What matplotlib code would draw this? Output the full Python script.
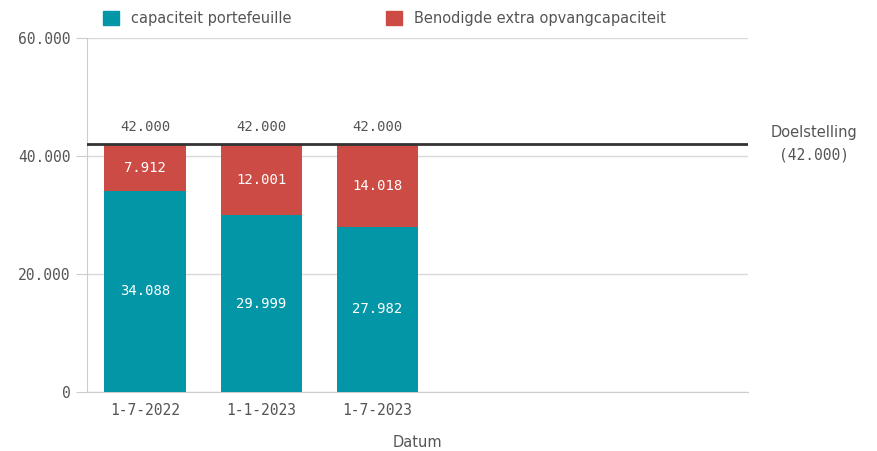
import matplotlib.pyplot as plt
import numpy as np
from matplotlib.patches import Patch
from matplotlib.ticker import FuncFormatter

# data
datums = ['1-7-2022', '1-1-2023', '1-7-2023']
capaciteit = [34088, 29999, 27982]
extra = [7912, 12001, 14018]
doel = 42000

teal = '#0396A6'
red = '#CD4B45'
grey_txt = '#555555'

fig = plt.figure(figsize=(8.77, 4.51), dpi=100)
ax = fig.add_axes([0.0992, 0.1308, 0.7537, 0.7849])

x = np.arange(len(datums))
ax.bar(x, capaciteit, width=0.7, color=teal, zorder=3)
ax.bar(x, extra, width=0.7, bottom=capaciteit, color=red, zorder=3)

def nl(v):
    return f'{v:,.0f}'.replace(',', '.')

mono = 'DejaVu Sans Mono'
for i in range(len(datums)):
    ax.text(x[i], capaciteit[i] / 2, nl(capaciteit[i]), ha='center', va='center',
            color='white', fontsize=10, family=mono, zorder=4)
    ax.text(x[i], capaciteit[i] + extra[i] / 2, nl(extra[i]), ha='center', va='center',
            color='white', fontsize=10, family=mono, zorder=4)
    ax.text(x[i], capaciteit[i] + extra[i] + 1800, nl(capaciteit[i] + extra[i]),
            ha='center', va='bottom', color=grey_txt, fontsize=10, family=mono)

# target line with its label on the right
ax.axhline(doel, color='#333333', lw=2, zorder=5)
ytr = ax.get_yaxis_transform()
ax.text(1.1, doel + 1950, 'Doelstelling', transform=ytr,
        ha='center', va='center', color=grey_txt, fontsize=10.5)
ax.text(1.1, doel - 1900, '(' + nl(doel) + ')', transform=ytr,
        ha='center', va='center', color=grey_txt, fontsize=10.5, family=mono)

ax.set_xlim(-0.5, 5.19)
ax.set_ylim(0, 60000)
ax.set_yticks([0, 20000, 40000, 60000])
ax.yaxis.set_major_formatter(FuncFormatter(lambda v, p: nl(v)))
ax.set_xticks(x)
ax.set_xticklabels(datums)
for lab in ax.get_xticklabels() + ax.get_yticklabels():
    lab.set_family(mono)
    lab.set_fontsize(10.5)
    lab.set_color(grey_txt)
ax.tick_params(axis='y', length=8, color='#cccccc', pad=4)
ax.tick_params(axis='x', length=0, pad=8)
ax.grid(axis='y', color='#d9d9d9', lw=1, zorder=0)
for s in ['top', 'right']:
    ax.spines[s].set_visible(False)
ax.spines['left'].set_color('#cccccc')
ax.spines['bottom'].set_color('#cccccc')
ax.set_xlabel('Datum', fontsize=10.5, color=grey_txt, labelpad=12)

handles = [Patch(color=teal, label='capaciteit portefeuille'),
           Patch(color=red, label='Benodigde extra opvangcapaciteit')]
fig.legend(handles=handles, loc='upper left', bbox_to_anchor=(0.103, 1.005), ncol=2,
           frameon=False, fontsize=10.5, handlelength=1.1, handleheight=1.1,
           columnspacing=6.5, labelcolor=grey_txt)

fig.savefig('out.png', dpi=100)
